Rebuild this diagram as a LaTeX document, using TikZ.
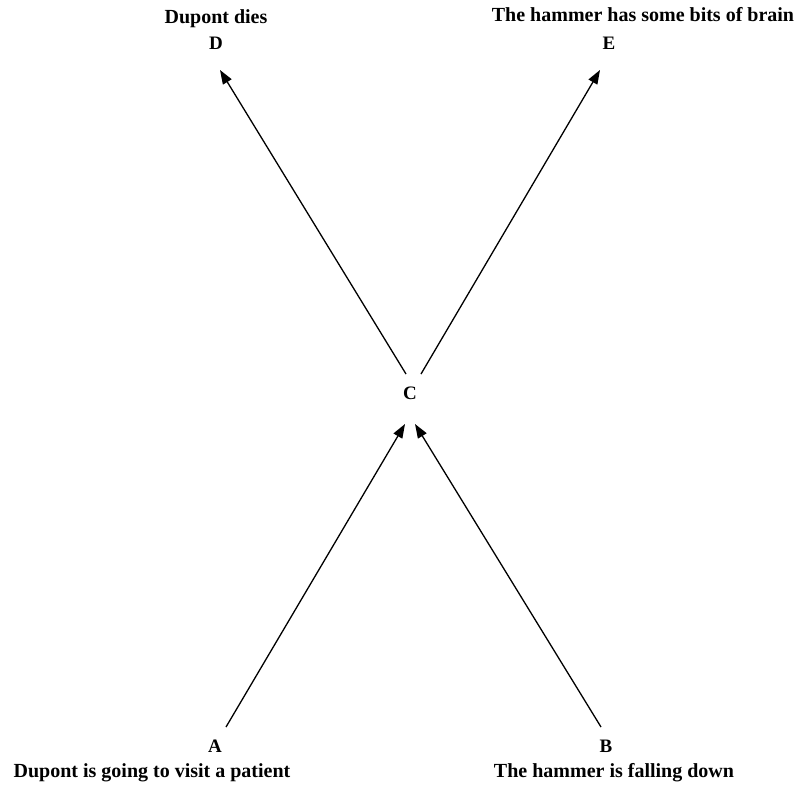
\documentclass[tikz,border=0pt]{standalone}
\usepackage{fontspec}
\setmainfont{Liberation Serif}
\usetikzlibrary{arrows.meta}
\tikzset{
  lbl/.style={font=\bfseries\fontsize{20}{22}\selectfont, inner sep=0pt, anchor=base},
  ltr/.style={font=\bfseries\fontsize{19}{22}\selectfont, inner sep=0pt, anchor=base},
  arr/.style={line width=1.3pt, -{Triangle[length=14pt,width=10pt]}}
}
\begin{document}
\begin{tikzpicture}[x=1pt,y=-1pt]
\useasboundingbox (0,0) rectangle (797,785);
% labels
\node[lbl] (tD) at (216,23) {Dupont dies};
\node[ltr] (D) at (216,49) {D};
\node[lbl] (tE) at (643,21) {The hammer has some bits of brain};
\node[ltr] (E) at (609,49) {E};
\node[ltr] (C) at (410,399) {C};
\node[ltr] (A) at (215,752) {A};
\node[lbl] (tA) at (152,777) {Dupont is going to visit a patient};
\node[ltr] (B) at (606,752) {B};
\node[lbl] (tB) at (614,777) {The hammer is falling down};
% arrow ends
\coordinate (a0) at (226,727);
\coordinate (a1) at (405,424);
\coordinate (b0) at (601,727);
\coordinate (b1) at (415,424);
\coordinate (c0) at (406,374);
\coordinate (d1) at (220,70);
\coordinate (c1) at (421,374);
\coordinate (e1) at (600,70);
\draw[arr] (a0) -- (a1);
\draw[arr] (b0) -- (b1);
\draw[arr] (c0) -- (d1);
\draw[arr] (c1) -- (e1);
\end{tikzpicture}
\end{document}
